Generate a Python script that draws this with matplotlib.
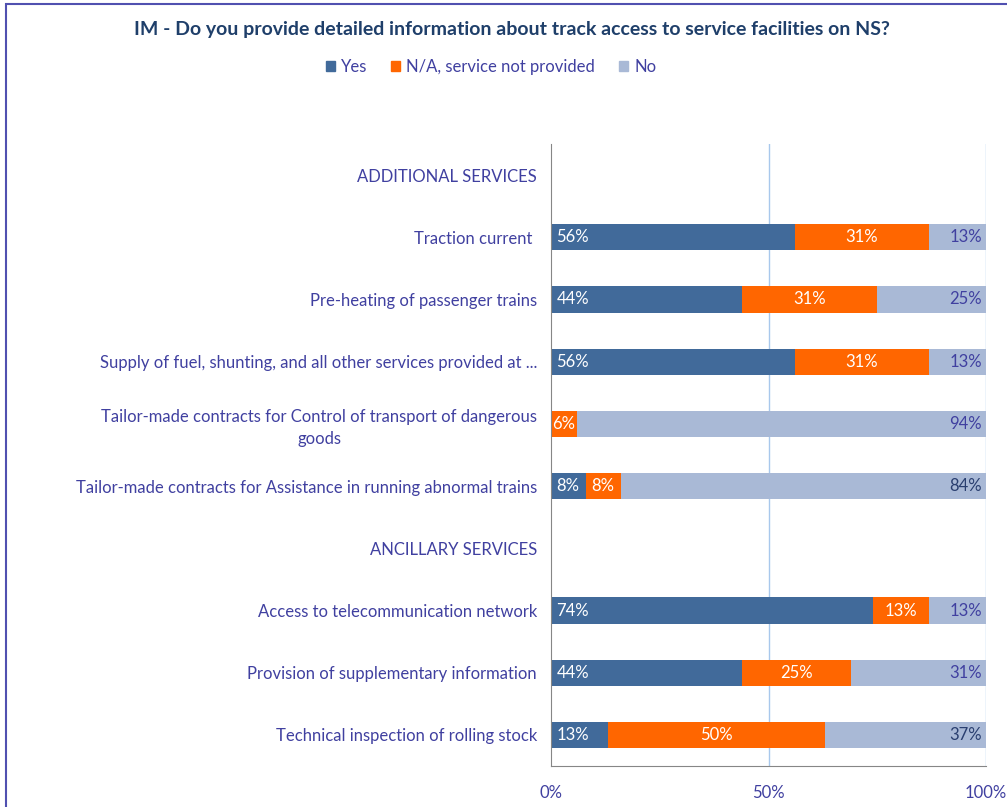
import numpy as np
import matplotlib
matplotlib.use("Agg")
import matplotlib.pyplot as plt
from matplotlib.patches import Rectangle, Patch

plt.rcParams['font.family'] = ['Lato', 'DejaVu Sans']

# rows from top to bottom; section headers carry no values
categories = [
    "ADDITIONAL SERVICES",
    "Traction current ",
    "Pre-heating of passenger trains",
    "Supply of fuel, shunting, and all other services provided at ...",
    "Tailor-made contracts for Control of transport of dangerous\ngoods",
    "Tailor-made contracts for Assistance in running abnormal trains",
    "ANCILLARY SERVICES",
    "Access to telecommunication network",
    "Provision of supplementary information",
    "Technical inspection of rolling stock",
]
yes_vals = [0, 56, 44, 56, 0, 8, 0, 74, 44, 13]
na_vals = [0, 31, 31, 31, 6, 8, 0, 13, 25, 50]
no_vals = [0, 13, 25, 13, 94, 84, 0, 13, 31, 37]
has_data = [False, True, True, True, True, True, False, True, True, True]
series_names = ["Yes", "N/A, service not provided", "No"]
x_ticks = [0, 50, 100]
x_ticklabels = ["0%", "50%", "100%"]

c_yes = "#416A9A"
c_na = "#FF6600"
c_no = "#A9B9D6"
c_text = "#4040A0"
c_title = "#1F3F6A"
no_label_colors = [c_text, c_text, c_text, c_text, c_text, "#2A3F70", c_text, c_text, c_text, "#2A3F70"]

fig = plt.figure(figsize=(10.07, 8.07), dpi=100)
W, H = 1007, 807
ax = fig.add_axes([551 / W, 1 - 766 / H, 435 / W, 622 / H])

y = np.arange(len(categories))
yes = np.array(yes_vals, dtype=float)
na = np.array(na_vals, dtype=float)
no = np.array(no_vals, dtype=float)
mask = np.array(has_data)

bh = 0.42
ax.barh(y[mask], yes[mask], height=bh, color=c_yes, zorder=3)
ax.barh(y[mask], na[mask], left=yes[mask], height=bh, color=c_na, zorder=3)
ax.barh(y[mask], no[mask], left=(yes + na)[mask], height=bh, color=c_no, zorder=3)

fs = 12
# value labels: Yes at base, N/A centred, No at the end
for i in range(len(categories)):
    if not has_data[i]:
        continue
    if yes[i] > 0:
        ax.annotate(f"{yes_vals[i]}%", (0, i), xytext=(4, 0), textcoords="offset points",
                    ha="left", va="center", color="white", fontsize=fs, zorder=4)
    if na[i] > 0:
        ax.text(yes[i] + na[i] / 2, i, f"{na_vals[i]}%", ha="center", va="center",
                color="white", fontsize=fs, zorder=4)
    if no[i] > 0:
        ax.annotate(f"{no_vals[i]}%", (yes[i] + na[i] + no[i], i), xytext=(-3, 0),
                    textcoords="offset points", ha="right", va="center",
                    color=no_label_colors[i], fontsize=fs, zorder=4)

ax.set_xlim(0, 100)
ax.set_ylim(len(categories) - 0.5, -0.5)
ax.set_yticks(y)
ax.set_yticklabels(categories, color=c_text, fontsize=fs)
for lbl in ax.get_yticklabels():
    lbl.set_multialignment("center")
    lbl.set_linespacing(1.45)
ax.set_xticks(x_ticks)
ax.set_xticklabels(x_ticklabels, color=c_text, fontsize=fs)
ax.tick_params(axis="both", length=0)
ax.tick_params(axis="y", pad=10)
ax.tick_params(axis="x", pad=14)

for x in x_ticks[1:]:
    ax.axvline(x, color="#A8C8EC", lw=1.0, zorder=1)
for s in ["top", "right"]:
    ax.spines[s].set_visible(False)
ax.spines["left"].set_color("#868686")
ax.spines["bottom"].set_color("#868686")
ax.spines["left"].set_zorder(5)

fig.text(512 / W, 1 - 30 / H, "IM - Do you provide detailed information about track access to service facilities on NS?",
         ha="center", va="center", fontsize=14, fontweight="bold", color=c_title)

handles = [Patch(color=c) for c in (c_yes, c_na, c_no)]
fig.legend(handles, series_names, loc="center", bbox_to_anchor=(491 / W, 1 - 67 / H), ncol=3,
           frameon=False, fontsize=fs, labelcolor=c_text, handlelength=0.55, handleheight=0.55,
           handletextpad=0.35, columnspacing=1.45)

# outer chart border, running off the right and bottom edges
fig.patches.append(Rectangle((6 / W, -0.1), 1.2, 1 - 4 / H + 0.1, transform=fig.transFigure,
                             fill=False, edgecolor="#5050B0", lw=1.5, clip_on=False))

fig.savefig("out.png", dpi=100)
